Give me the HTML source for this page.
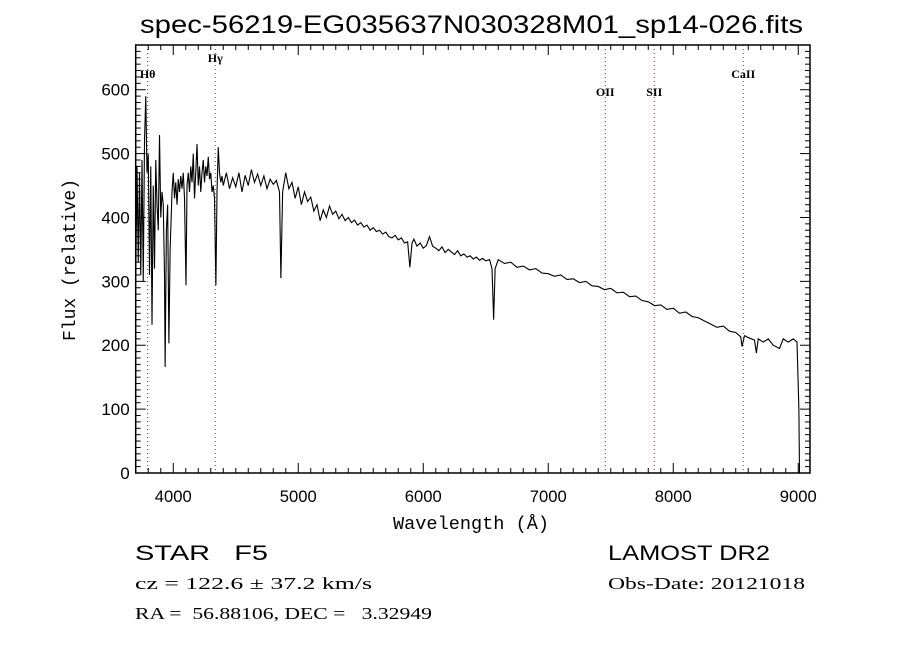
<!DOCTYPE html>
<html><head><meta charset="utf-8"><style>
html,body{margin:0;padding:0;background:#fff;}
svg{display:block;}
text{font-family:"Liberation Serif",serif;fill:#000;}
.s{font-family:"Liberation Sans",sans-serif;}
</style></head><body>
<svg id="chart" width="900" height="650" viewBox="0 0 900 650">
<rect width="900" height="650" fill="#fff"/>
<text x="140" y="33" font-size="25" class="s" textLength="663" lengthAdjust="spacingAndGlyphs">spec-56219-EG035637N030328M01_sp14-026.fits</text>
<g id="grid"></g>
<g id="axes"></g>
<path id="spec" fill="none" stroke="#000" stroke-width="1.1"/>
<rect x="135.7" y="45" width="674.3" height="428" fill="none" stroke="#000" stroke-width="1.5"/>
<text x="393" y="529" font-size="18" textLength="156" lengthAdjust="spacingAndGlyphs" style="font-family:'Liberation Mono',monospace">Wavelength (Å)</text>
<text transform="translate(75,260) rotate(-90)" text-anchor="middle" font-size="18" style="font-family:'Liberation Mono',monospace">Flux (relative)</text>
<text x="135" y="560" font-size="21" class="s" xml:space="preserve" textLength="133" lengthAdjust="spacingAndGlyphs">STAR   F5</text>
<text x="135" y="589" font-size="17" textLength="237" lengthAdjust="spacingAndGlyphs">cz = 122.6 ± 37.2 km/s</text>
<text x="135" y="619" font-size="17" xml:space="preserve" textLength="297" lengthAdjust="spacingAndGlyphs">RA =  56.88106, DEC =   3.32949</text>
<text x="608" y="560" font-size="21" class="s" textLength="162" lengthAdjust="spacingAndGlyphs">LAMOST DR2</text>
<text x="608" y="589" font-size="17" textLength="197" lengthAdjust="spacingAndGlyphs">Obs-Date: 20121018</text>
</svg>
<script>
const waves=[3700,3710,3720,3730,3740,3750,3760,3770,3780,3790,3800,3810,3820,3830,3840,3850,3860,3870,3880,3890,3900,3910,3920,3930,3935,3945,3955,3965,3975,3990,4000,4010,4020,4030,4040,4050,4060,4070,4080,4090,4102,4110,4120,4130,4140,4150,4160,4170,4180,4190,4200,4210,4220,4230,4240,4250,4260,4270,4280,4290,4300,4310,4320,4330,4341,4350,4360,4370,4380,4390,4400,
4425,4450,4475,4500,4525,4550,4575,4600,4625,4650,4675,4700,4725,4750,4775,4800,4825,4850,4861,4875,4900,4925,4950,4975,5000,5025,5050,5075,5100,5125,5150,5175,5200,5225,5250,5275,5300,5325,5350,5375,5400,5425,5450,5475,5500,5525,5550,5575,5600,5625,5650,5675,5700,5725,5750,5775,5800,5825,5850,5875,5893,5910,5925,5950,5975,6000,6025,6050,6075,6100,6125,6150,6175,6200,6225,6250,6275,6300,6325,6350,6375,6400,6425,6450,6475,6500,6530,6550,6563,6575,6600,
6650,6700,6750,6800,6850,6900,6950,7000,7050,7100,7150,7200,7250,7300,7350,7400,7450,7500,7550,7600,7650,7700,7750,7800,7850,7900,7950,8000,8050,8100,8150,8200,8250,8300,8350,8400,8450,8500,8540,8550,8570,8600,8650,8665,8680,8720,8760,8800,8850,8880,8920,8960,8990,9005,9010];
const flux=[300,480,330,470,310,490,300,520,590,470,500,310,480,232,450,320,490,420,380,529,400,440,420,310,166,380,420,203,350,440,470,430,455,420,460,440,465,445,470,430,294,450,470,440,480,455,500,430,470,515,450,480,440,470,490,455,480,465,495,460,470,440,450,430,294,440,510,470,455,465,450,
470,445,462,448,470,440,466,450,475,455,468,450,465,445,460,452,458,440,305,440,470,445,455,430,448,420,440,425,432,410,420,395,412,400,418,405,410,398,405,395,400,392,396,388,392,385,388,380,384,378,380,374,377,370,368,372,365,368,360,362,322,360,366,355,360,352,356,370,355,352,348,354,345,350,346,342,348,340,343,338,340,335,338,333,336,332,334,320,240,320,334,
328,330,322,324,318,320,313,312,308,310,303,304,298,300,293,292,287,289,282,283,276,277,270,268,262,263,256,258,250,252,245,243,238,233,228,230,222,220,213,198,215,212,208,188,210,205,210,200,195,210,205,210,205,100,0];
const xTicks=[4000,5000,6000,7000,8000,9000];
const yTicks=[0,100,200,300,400,500,600];
const lineNames=["Hθ","Hγ","OII","SII","CaII"];
const lineWaves=[3795,4336,7456,7848,8560];
const lineLabelY=[78,62,96,96,78];

const X0=135.7,X1=810,Y0=473,Y1=45,WMIN=3699.5,WMAX=9094,FMIN=0,FMAX=670;
const sx=w=>X0+(w-WMIN)/(WMAX-WMIN)*(X1-X0);
const sy=f=>Y0-(f-FMIN)/(FMAX-FMIN)*(Y0-Y1);
const NS="http://www.w3.org/2000/svg";
function mk(tag,attrs,parent){const e=document.createElementNS(NS,tag);for(const k in attrs)e.setAttribute(k,attrs[k]);parent.appendChild(e);return e;}
const axes=document.getElementById('axes'),grid=document.getElementById('grid');

let d="";
for(let i=0;i<waves.length;i++){d+=(i?"L":"M")+sx(waves[i]).toFixed(2)+","+sy(Math.max(flux[i],FMIN)).toFixed(2);}
document.getElementById('spec').setAttribute('d',d);

for(let w=3700;w<=WMAX;w+=100){
  const major=w%1000===0,L=major?10:5,x=sx(w);
  const t1=mk('line',{x1:x,y1:Y0,x2:x,y2:Y0-L,stroke:'#000','stroke-width':1},axes);
  
  
  const t2=mk('line',{x1:x,y1:Y1,x2:x,y2:Y1+L,stroke:'#000','stroke-width':1},axes);
  
  
}
xTicks.forEach(v=>{
  const t=mk('text',{x:sx(v)-18.5,y:Y0+29,'font-size':17,'class':'s',textLength:37,lengthAdjust:'spacingAndGlyphs'},axes);
  t.textContent=v;
  
  
});
for(let f=0;f<=FMAX;f+=10){
  const major=f%100===0,L=major?10:5,y=sy(f);
  const t1=mk('line',{x1:X0,y1:y,x2:X0+L,y2:y,stroke:'#000','stroke-width':1},axes);
  
  
  const t2=mk('line',{x1:X1,y1:y,x2:X1-L,y2:y,stroke:'#000','stroke-width':1},axes);
  
  
}
yTicks.forEach(v=>{
  const t=mk('text',{x:X0-6,y:sy(v)+6,'text-anchor':'end','font-size':17,'class':'s'},axes);
  t.textContent=v;
  
  
});
lineWaves.forEach((w,i)=>{
  const x=sx(w);
  const l=mk('line',{x1:x,y1:Y1,x2:x,y2:Y0,stroke:'#7a3040','stroke-width':1,'stroke-dasharray':'1,3'},grid);
  
  
  const t=mk('text',{x:x,y:lineLabelY[i],'text-anchor':'middle','font-size':12,'font-weight':'bold'},grid);
  t.textContent=lineNames[i];
  
  
});
</script>
</body></html>
